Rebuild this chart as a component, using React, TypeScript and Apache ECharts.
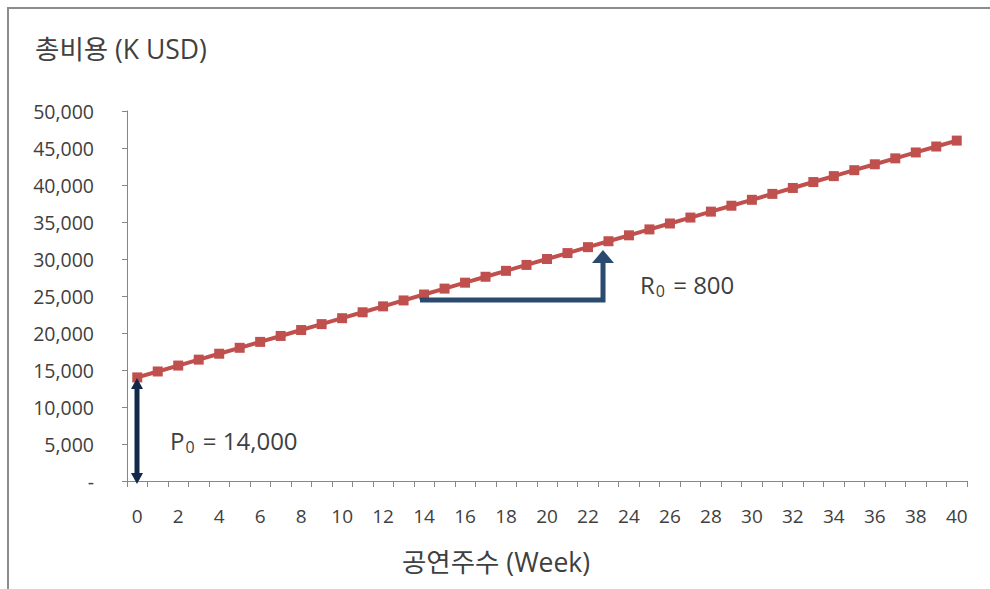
import React, { useEffect, useRef } from "react";
import * as echarts from "echarts";

const weeks: string[] = [
  "0", "1", "2", "3", "4", "5", "6", "7", "8", "9", "10",
  "11", "12", "13", "14", "15", "16", "17", "18", "19", "20",
  "21", "22", "23", "24", "25", "26", "27", "28", "29", "30",
  "31", "32", "33", "34", "35", "36", "37", "38", "39", "40",
];

const totalCost: number[] = [
  14000, 14800, 15600, 16400, 17200, 18000, 18800, 19600, 20400, 21200, 22000,
  22800, 23600, 24400, 25200, 26000, 26800, 27600, 28400, 29200, 30000,
  30800, 31600, 32400, 33200, 34000, 34800, 35600, 36400, 37200, 38000,
  38800, 39600, 40400, 41200, 42000, 42800, 43600, 44400, 45200, 46000,
];

const yTitle = "총비용 (K USD)";
const xTitle = "공연주수 (Week)";

const FONT = "'Open Sans', 'Noto Sans CJK KR', sans-serif";
const TEXT_COLOR = "#404040";

export default function App() {
  const ref = useRef<HTMLDivElement>(null);
  useEffect(() => {
    if (!ref.current) return;
    const chart = echarts.init(ref.current, null, { renderer: "svg" });
    const fmt = (v: number) =>
      v === 0 ? "-" : v.toLocaleString("en-US");
    chart.setOption({
      animation: false,
      backgroundColor: "#ffffff",
      textStyle: { fontFamily: FONT },
      grid: { left: 127, right: 23, top: 111, bottom: 108 },
      xAxis: {
        type: "category",
        data: weeks,
        boundaryGap: true,
        axisLine: { lineStyle: { color: "#868686", width: 1 } },
        axisTick: { show: true, interval: 0, length: 6, lineStyle: { color: "#868686" } },
        axisLabel: {
          interval: 1,
          margin: 25,
          fontSize: 19,
          color: TEXT_COLOR,
          fontFamily: FONT,
        },
        splitLine: { show: false },
      },
      yAxis: {
        type: "value",
        min: 0,
        max: 50000,
        interval: 5000,
        axisLine: { show: true, lineStyle: { color: "#868686", width: 1 } },
        axisTick: { show: true, length: 5, lineStyle: { color: "#868686" } },
        axisLabel: {
          formatter: fmt,
          margin: 33,
          fontSize: 19.5,
          color: TEXT_COLOR,
          fontFamily: FONT,
        },
        splitLine: { show: false },
      },
      series: [
        {
          type: "line",
          data: totalCost,
          symbol: "rect",
          symbolSize: 10,
          lineStyle: { color: "#C0504D", width: 4 },
          itemStyle: { color: "#C0504D" },
          z: 3,
        },
      ],
      graphic: [
        {
          type: "rect",
          shape: { x: 8, y: 8, width: 1100, height: 1100 },
          style: { fill: "none", stroke: "#8c8c8c", lineWidth: 2 },
          silent: true,
        },
        {
          type: "text",
          x: 35,
          y: 49,
          style: {
            text: yTitle,
            fontSize: 26.5,
            fill: TEXT_COLOR,
            fontFamily: FONT,
            verticalAlign: "middle",
          },
        },
        {
          type: "text",
          x: 496,
          y: 562,
          style: {
            text: xTitle,
            fontSize: 26.5,
            fill: TEXT_COLOR,
            fontFamily: FONT,
            align: "center",
            verticalAlign: "middle",
          },
        },
        // P0 double arrow
        {
          type: "line",
          shape: { x1: 137, y1: 388, x2: 137, y2: 473 },
          style: { stroke: "#13294A", lineWidth: 5 },
          z: 5,
        },
        {
          type: "polygon",
          shape: { points: [[137, 378], [131, 389], [143, 389]] },
          style: { fill: "#13294A" },
          z: 5,
        },
        {
          type: "polygon",
          shape: { points: [[137, 484], [131, 473], [143, 473]] },
          style: { fill: "#13294A" },
          z: 5,
        },
        {
          type: "text",
          x: 170,
          y: 440,
          style: {
            text: "{m|P}{s|0}{m| = 14,000}",
            verticalAlign: "middle",
            rich: {
              m: { fontSize: 24, fill: TEXT_COLOR, fontFamily: FONT },
              s: { fontSize: 16, fill: TEXT_COLOR, fontFamily: FONT, padding: [13, 2, 0, 1] },
            },
          },
        },
        // R0 step arrow
        {
          type: "polyline",
          shape: { points: [[420, 300], [603, 300], [603, 262]] },
          style: { stroke: "#2B4A70", lineWidth: 5, fill: "none", lineJoin: "miter" },
          z: 5,
        },
        {
          type: "polygon",
          shape: { points: [[603, 250], [592, 263], [614, 263]] },
          style: { fill: "#2B4A70" },
          z: 5,
        },
        {
          type: "text",
          x: 640,
          y: 284,
          style: {
            text: "{m|R}{s|0}{m| = 800}",
            verticalAlign: "middle",
            rich: {
              m: { fontSize: 24, fill: TEXT_COLOR, fontFamily: FONT },
              s: { fontSize: 16, fill: TEXT_COLOR, fontFamily: FONT, padding: [13, 2, 0, 1] },
            },
          },
        },
      ],
    });
    return () => chart.dispose();
  }, []);
  return (
    <div
      ref={ref}
      style={{ position: "absolute", left: 0, top: 0, width: 990, height: 589 }}
    />
  );
}
